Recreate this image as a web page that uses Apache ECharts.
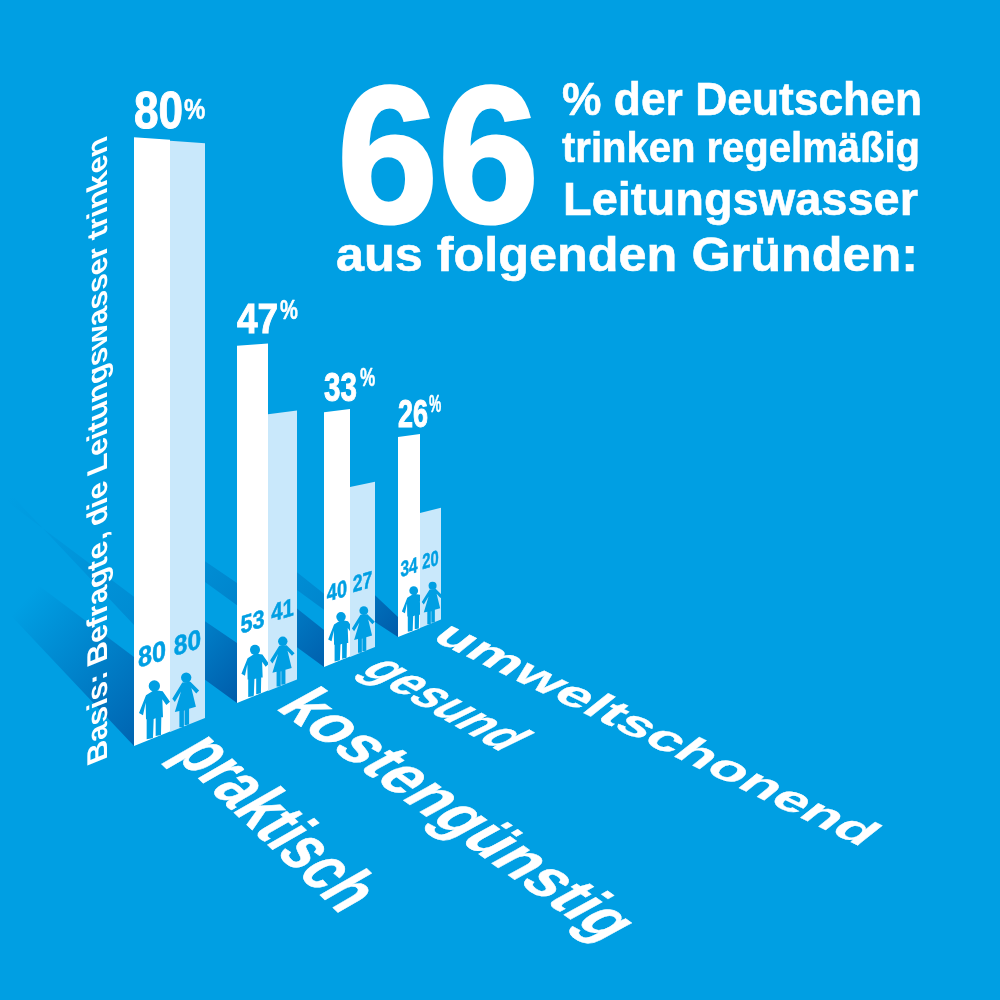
<!DOCTYPE html>
<html><head><meta charset="utf-8">
<style>html,body{margin:0;padding:0;background:#009FE3}#c{width:1000px;height:1000px}</style>
<script src="https://cdn.jsdelivr.net/npm/echarts@6/dist/echarts.min.js"></script>
</head><body><div id="c"></div>
<script>
// ---------- data ----------
const categories = ['praktisch','kostengünstig','gesund','umweltschonend'];
const totals = [80,47,33,26];
const menValues = [80,53,40,34];
const womenValues = [80,41,27,20];
const headline = 66;
const note = 'Basis: Befragte, die Leitungswasser trinken';
const headLines = ['% der Deutschen','trinken regelmäßig','Leitungswasser','aus folgenden Gründen:'];

// ---------- layout (grids that give each bar its own perspective scale) ----------
const BG='#009FE3', LIGHT='#C9E8FB';
const AXIS_MAX=90, BASE_SLOPE=0.4, TAPER=0.028, LABEL_V=11.2;
const gridsMen  =[{x:134,w:36,base:746,k:7.61},{x:237,w:31,base:703,k:6.74},{x:324,w:26,base:667,k:6.37},{x:398,w:22,base:637,k:5.88}];
const gridsWomen=[{x:170,w:35,base:732,k:7.39},{x:268,w:29,base:691,k:6.75},{x:350,w:25,base:657,k:6.30},{x:420,w:21,base:628,k:5.75}];
const totalStyle=[{fs:51,sx:.865,gap:7,pfs:30,psx:.8,px:50,py:-10},{fs:43,sx:.86,gap:11.5,pfs:28,psx:.72,px:43,py:-14},{fs:40,sx:.74,gap:10,pfs:26,psx:.66,px:36,py:-15},{fs:38,sx:.71,gap:9,pfs:23,psx:.6,px:31,py:-15}];
// shadow bands: [vLow, vHigh, strength] at the bar edge; reach in pixels to the left
const shadows=[
 {reach:133,slopeLow:1.06,slopeHigh:.75,bands:[[0,11.7,.75],[15.9,19.6,.25]]},
 {reach:32,slopeLow:.73,slopeHigh:.68,bands:[[0,8.9,.85],[14.5,17.8,.34]]},
 {reach:27,slopeLow:.73,slopeHigh:.8,bands:[[0,5.8,.8],[9,11.5,.32]]},
 {reach:23,slopeLow:.65,slopeHigh:.95,bands:[[0,3.4,.85]]}
];
// pictograms, outlines relative to the bar's lower-left corner, drawn at scale k/7.61 (units: 1/3 px)
const manPts=[[61,-168],[86,-164],[108,-133],[97,-123],[85,-140],[87,-86],[82,-86],[81,-33],[65,-30],[65,-83],[59,-81],[57,-25],[54,-23],[38,-20],[38,-80],[36,-80],[35,-130],[27,-92],[15,-99],[36,-152]];
const manHead=[61,-180,17];
const womanPts=[[38,-153],[63,-155],[90,-128],[81,-119],[66,-136],[80,-78],[59,-72],[59,-23],[45,-21],[45,-67],[43,-66],[43,-15],[29,-15],[29,-65],[15,-62],[34,-125],[15,-93],[7,-103]];
const womanHead=[50,-168,16];

const wordSpecs=[
 {s:[170,755],e:[338,916],up:[47,-27]},
 {s:[272,709],e:[601,944],up:[44,-24]},
 {s:[357,672],e:[499,753],up:[37,-18]},
 {s:[429,640],e:[860,848],up:[25,-20]}
];

// ---------- helpers ----------
const mctx=document.createElement('canvas').getContext('2d');
function natW(t,fs){mctx.font='bold '+fs+'px "Liberation Sans"';return mctx.measureText(t).width;}
function affine(a,c){
  const sx=Math.hypot(a[0],a[1]), e1=[a[0]/sx,a[1]/sx], e2=[-a[1]/sx,a[0]/sx];
  const sy=c[0]*e2[0]+c[1]*e2[1], t=(c[0]*e1[0]+c[1]*e1[1])/sy;
  return {rotation:-Math.atan2(a[1],a[0]),scaleX:sx,scaleY:sy,skewX:Math.atan(t)};
}
function txt(text,fs,fill,x,y,a,c,align,lw){
  const f=affine(a||[1,0],c||[0,1]);
  const style={text:text,x:0,y:-0.312*fs,fill:fill,font:'bold '+fs+'px "Liberation Sans"',align:align||'left',verticalAlign:'middle'};
  if(lw){style.stroke=fill;style.lineWidth=lw;}
  return Object.assign({type:'text',x:x,y:y,silent:true,style:style},f);
}
function fitted(text,fs,x0,x1,baseline,lw){return txt(text,fs,'#fff',x0,baseline,[(x1-x0)/natW(text,fs),0],[0,1],'left',lw);}

function barRender(g,i,isMen,params,api){
  const cs=params.coordSys, w=cs.width, x0=cs.x, base=cs.y+cs.height;
  const P=(u,v)=>{const py=api.coord([0,v])[1];return [x0+u*w, base-BASE_SLOPE*u*w-(base-py)*(1-TAPER*u)];};
  const val=api.value(1), kids=[];
  if(isMen){
    const sh=shadows[i];
    sh.bands.forEach(b=>{
      const lo=P(0,b[0]),hi=P(0,b[1]);
      kids.push({type:'polygon',silent:true,shape:{points:[lo,hi,[x0-sh.reach,hi[1]-sh.reach*sh.slopeHigh],[x0-sh.reach,lo[1]-sh.reach*sh.slopeLow]]},
       style:{fill:{type:'linear',x:x0,y:lo[1],x2:x0-Math.max(sh.reach,110),y2:lo[1]-Math.max(sh.reach,110)*.9,global:true,
         colorStops:[{offset:0,color:'rgba(0,80,160,'+b[2]+')'},{offset:1,color:'rgba(0,80,160,0)'}]}}});
    });
  }
  kids.push({type:'polygon',silent:true,shape:{points:[P(0,0),P(0,val),P(1,val),P(1,0)]},style:{fill:isMen?'#fff':LIGHT}});
  const m=P(.5,LABEL_V), fs=g.k*3.7, ls=w*.78/natW(String(val),fs);
  kids.push(txt(String(val),fs,BG,m[0],m[1]+fs*.346,[ls,-.3*ls],[0,1],'center',.5));
  const s=g.k/7.61/3, a=P(0,0);
  const pts=(isMen?manPts:womanPts).map(p=>[a[0]+p[0]*s,a[1]+p[1]*s]);
  const h=isMen?manHead:womanHead;
  kids.push({type:'polygon',silent:true,shape:{points:pts},style:{fill:BG}});
  kids.push({type:'circle',silent:true,shape:{cx:a[0]+h[0]*s,cy:a[1]+h[1]*s,r:h[2]*s},style:{fill:BG}});
  if(isMen){
    const ts=totalStyle[i], t=String(totals[i]), top=P(0,val);
    kids.push(txt(t,ts.fs,'#fff',x0,top[1]-ts.gap,[ts.sx,0],[0,1],'left',1));
    kids.push(txt('%',ts.pfs,'#fff',x0+ts.px,top[1]-ts.gap+ts.py,[ts.psx,0],[0,1],'left',.5));
  }
  return {type:'group',children:kids};
}

// ---------- option ----------
const grid=[],xAxis=[],yAxis=[],series=[];
function addBar(g,i,isMen,value){
  const n=grid.length;
  grid.push({left:g.x,width:g.w,top:g.base-g.k*AXIS_MAX,height:g.k*AXIS_MAX});
  xAxis.push({type:'category',gridIndex:n,data:[categories[i]],show:false});
  yAxis.push({type:'value',gridIndex:n,min:0,max:AXIS_MAX,show:false});
  series.push({type:'custom',xAxisIndex:n,yAxisIndex:n,silent:true,clip:false,data:[[0,value]],encode:{x:0,y:1},
    renderItem:(p,api)=>barRender(g,i,isMen,p,api)});
}
for(let i=3;i>=0;i--){addBar(gridsMen[i],i,true,menValues[i]);addBar(gridsWomen[i],i,false,womenValues[i]);}
// category words lie on the floor
series.push({type:'custom',coordinateSystem:'none',silent:true,data:categories.map((c,i)=>[i]),
  renderItem:(p,api)=>{
    const i=api.value(0), sp=wordSpecs[i], t=categories[i], fs=100, nw=natW(t,fs);
    const a=[(sp.e[0]-sp.s[0])/nw,(sp.e[1]-sp.s[1])/nw], c=[-sp.up[0]/(.73*fs),-sp.up[1]/(.73*fs)];
    return txt(t,fs,'#fff',sp.s[0],sp.s[1],a,c,'left',.8);
  }});
// headline and note
series.push({type:'custom',coordinateSystem:'none',silent:true,data:[[0]],
  renderItem:()=>{
    const nl=625/natW(note,100);
    return {type:'group',children:[
      fitted(String(headline),195,337,539,229,3),
      fitted(headLines[0],47,562,922,117,.6),
      fitted(headLines[1],42,562,920,164,.6),
      fitted(headLines[2],47,563,918,217,.6),
      fitted(headLines[3],48,336,918,273,.6),
      txt(note,100,'#fff',108,759,[0,-nl],[.285,-.285*.41])
    ]};
  }});

const chart=echarts.init(document.getElementById('c'),null,{renderer:'canvas',width:1000,height:1000});
chart.setOption({animation:false,backgroundColor:BG,grid,xAxis,yAxis,series});
</script></body></html>
